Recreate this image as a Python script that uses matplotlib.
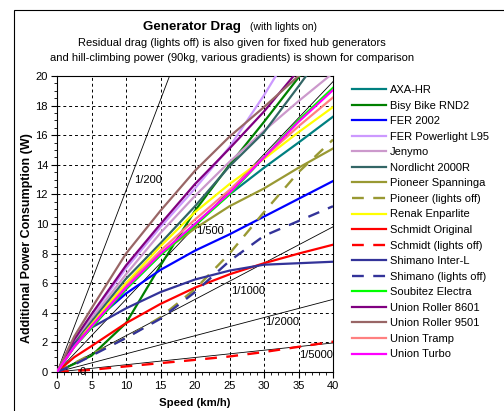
import matplotlib
matplotlib.use("Agg")
import matplotlib.pyplot as plt
from matplotlib.patches import Rectangle
from matplotlib.ticker import MultipleLocator

plt.rcParams['font.family'] = ['Liberation Sans', 'DejaVu Sans']

speeds = [0, 2.5, 5, 10, 15, 20, 25, 30, 35, 40]

names = ["AXA-HR", "Bisy Bike RND2", "FER 2002", "FER Powerlight L95", "Jenymo",
         "Nordlicht 2000R", "Pioneer Spanninga", "Pioneer (lights off)",
         "Renak Enparlite", "Schmidt Original", "Schmidt (lights off)",
         "Shimano Inter-L", "Shimano (lights off)", "Soubitez Electra",
         "Union Roller 8601", "Union Roller 9501", "Union Tramp", "Union Turbo"]

axa_hr        = [0, 1.7, 3.0, 5.6, 7.9, 10.0, 12.0, 13.8, 15.5, 17.25]
bisy_bike     = [0, 0.55, 1.1, 3.3, 7.2, 10.9, 14.0, 16.9, 19.9, 23.0]
fer_2002      = [0, 1.9, 3.3, 5.3, 6.9, 8.2, 9.3, 10.5, 11.7, 12.9]
fer_l95       = [0, 2.1, 3.8, 7.0, 9.8, 12.4, 15.2, 18.7, 22.5, 26.0]
jenymo        = [0, 2.0, 3.6, 6.6, 9.4, 11.9, 14.2, 16.3, 18.3, 20.2]
nordlicht     = [0, 1.9, 3.4, 6.3, 8.7, 11.2, 13.9, 16.2, 19.3, 22.5]
pioneer       = [0, 1.8, 3.2, 6.0, 8.0, 9.7, 11.2, 12.4, 13.8, 15.1]
pioneer_off   = [0, 0.6, 1.2, 2.3, 3.7, 5.6, 8.0, 10.8, 13.5, 15.7]
renak         = [0, 1.8, 3.2, 6.0, 8.5, 10.8, 12.7, 14.4, 16.2, 17.9]
schmidt       = [0, 1.0, 1.75, 3.3, 4.6, 5.7, 6.6, 7.35, 8.0, 8.6]
schmidt_off   = [0, 0.07, 0.15, 0.38, 0.6, 0.82, 1.05, 1.35, 1.7, 2.05]
shimano       = [0, 1.9, 3.0, 4.3, 5.4, 6.25, 6.85, 7.25, 7.35, 7.45]
shimano_off   = [0, 0.5, 1.1, 2.3, 3.6, 5.4, 7.5, 9.2, 10.2, 11.2]
soubitez      = [0, 1.7, 3.0, 5.6, 7.9, 9.9, 12.0, 14.5, 17.0, 19.2]
roller_8601   = [0, 2.2, 3.9, 7.2, 10.0, 12.7, 15.1, 17.6, 20.4, 23.2]
roller_9501   = [0, 2.4, 4.3, 8.0, 10.9, 13.6, 15.9, 17.9, 20.0, 22.0]
union_tramp   = [0, 1.7, 3.1, 5.8, 8.2, 10.3, 12.3, 14.5, 16.6, 18.55]
union_turbo   = [0, 1.7, 3.1, 5.7, 8.0, 10.0, 12.1, 14.5, 16.9, 19.05]

series = [axa_hr, bisy_bike, fer_2002, fer_l95, jenymo, nordlicht, pioneer,
          pioneer_off, renak, schmidt, schmidt_off, shimano, shimano_off,
          soubitez, roller_8601, roller_9501, union_tramp, union_turbo]

colors = ["#008080", "#008000", "#0000FF", "#CC99FF", "#CC99CC", "#336666",
          "#999933", "#999933", "#FFFF00", "#FF0000", "#FF0000", "#333399",
          "#333399", "#00FF00", "#800080", "#996666", "#FF8080", "#FF00FF"]
dashed = [False, False, False, False, False, False, False, True, False, False,
          True, False, True, False, False, False, False, False]

# hill-climbing power (90 kg) for various gradients
hill_speeds = [0, 40]
hill_labels = ["1/200", "1/500", "1/1000", "1/2000", "1/5000"]
hill_power_end = [49.05, 19.62, 9.81, 4.905, 1.962]
hill_label_pos = [(11.2, 13.0), (20.2, 9.5), (25.3, 5.5), (30.2, 3.4), (35.1, 1.15)]

fig = plt.figure(figsize=(5.04, 4.11), dpi=100)
# outer chart border (left and top edges visible)
fig.patches.append(Rectangle((14 / 504, -0.1), 1.2, 1 - 10 / 411 + 0.1,
                             transform=fig.transFigure, fill=False,
                             edgecolor="black", linewidth=0.8))

ax = fig.add_axes([57 / 504, 39 / 411, 276 / 504, 296 / 411])

for p_end in hill_power_end:
    ax.plot(hill_speeds, [0, p_end], color="black", lw=0.6, zorder=2)
for (lx, ly), lab in zip(hill_label_pos, hill_labels):
    ax.text(lx, ly, lab, fontsize=8, ha="left", va="center", zorder=5)
ax.text(3.3, 0.0, "0", fontsize=8, ha="left", va="center", zorder=5)

for name, vals, c, d in zip(names, series, colors, dashed):
    if d:
        ax.plot(speeds, vals, color=c, lw=1.7, dashes=(5, 4), label=name, zorder=3)
    else:
        ax.plot(speeds, vals, color=c, lw=1.6, label=name, zorder=3)

ax.set_xlim(0, 40)
ax.set_ylim(0, 20)
ax.xaxis.set_major_locator(MultipleLocator(5))
ax.xaxis.set_minor_locator(MultipleLocator(1))
ax.yaxis.set_major_locator(MultipleLocator(2))
ax.yaxis.set_minor_locator(MultipleLocator(0.5))
ax.tick_params(which="major", direction="out", length=4, width=0.8, labelsize=8,
               pad=2.5, colors="black")
ax.tick_params(which="minor", direction="out", length=2, width=0.6)
ax.grid(True, which="major", color="black", linestyle=(0, (3, 3)), linewidth=0.7)
for s in ax.spines.values():
    s.set_linewidth(0.8)

ax.set_xlabel("Speed (km/h)", fontsize=8.2, fontweight="bold", labelpad=5)
ax.set_ylabel("Additional Power Consumption (W)", fontsize=9, fontweight="bold")
ax.yaxis.set_label_coords((33 - 57) / 276, (372 - 238) / 296)

fig.text(241 / 504, 1 - 27 / 411, "Generator Drag", fontsize=9.6, fontweight="bold",
         ha="right", va="center")
fig.text(250 / 504, 1 - 27 / 411, "(with lights on)", fontsize=7.5,
         ha="left", va="center")
fig.text(232 / 504, 1 - 43 / 411,
         "Residual drag (lights off) is also given for fixed hub generators",
         fontsize=8, ha="center", va="center")
fig.text(232 / 504, 1 - 58 / 411,
         "and hill-climbing power (90kg, various gradients) is shown for comparison",
         fontsize=8, ha="center", va="center")

leg = ax.legend(loc="upper left", bbox_to_anchor=(352 / 504, 1 - 85 / 411),
                bbox_transform=fig.transFigure, frameon=False, fontsize=8,
                handlelength=3.1, handletextpad=0.3, labelspacing=0.5,
                borderaxespad=0, borderpad=0)

fig.savefig("out.png", dpi=100)
